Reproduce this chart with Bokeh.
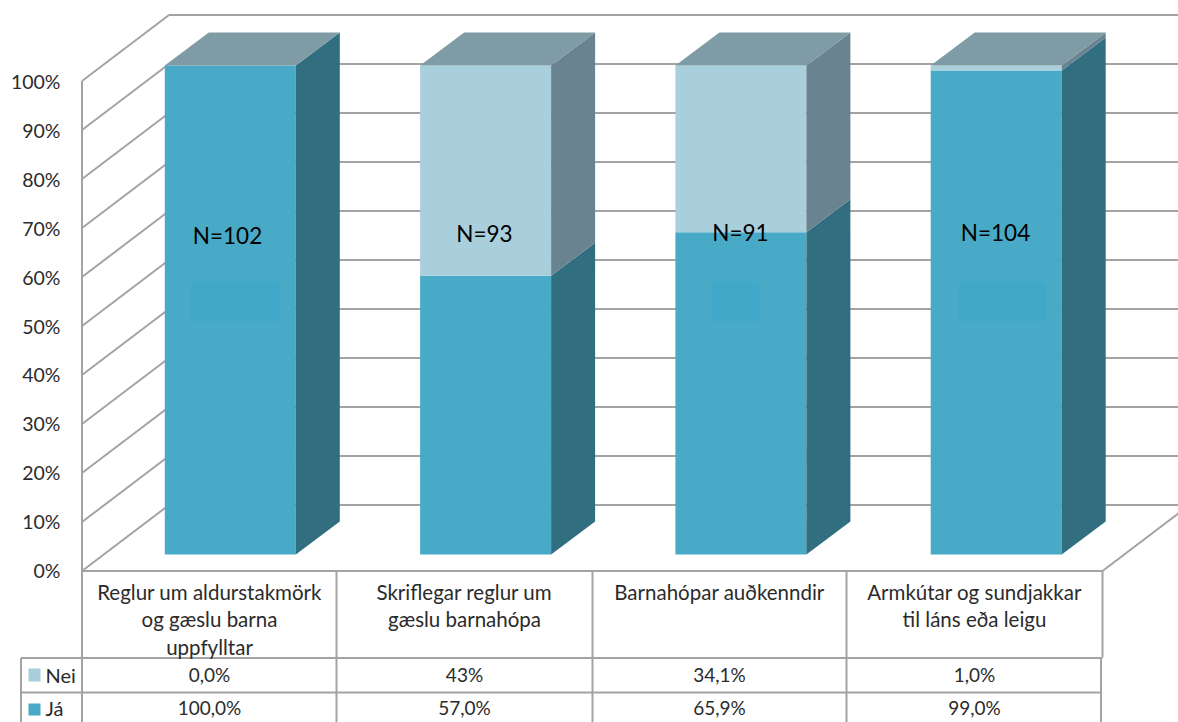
from bokeh.plotting import figure
from bokeh.embed import file_html
from bokeh.resources import INLINE
from bokeh.core.properties import value

categories = [
    ["Reglur um aldurstakmörk", "og gæslu barna", "uppfylltar"],
    ["Skriflegar reglur um", "gæslu barnahópa"],
    ["Barnahópar auðkenndir"],
    ["Armkútar og sundjakkar", "til láns eða leigu"],
]
ja_values = [100.0, 57.0, 65.9, 99.0]
nei_values = [0.0, 43.0, 34.1, 1.0]
ja_labels = ["100,0%", "57,0%", "65,9%", "99,0%"]
nei_labels = ["0,0%", "43%", "34,1%", "1,0%"]
n_labels = ["N=102", "N=93", "N=91", "N=104"]
n_pixel_xy = [(227, 235), (484, 233), (740, 232), (995, 232)]
tick_values = [0, 10, 20, 30, 40, 50, 60, 70, 80, 90, 100]
tick_labels = [f"{t}%" for t in tick_values]
patches_px = [(190, 280), (711, 759), (958, 1046)]

W, H = 1178, 722
OX, OY = 0, 0
BAR0, BAR_STEP, BAR_W = 229.8, 255.3, 131.0
Y0, Y_SCALE = 554.0, 4.89


def dx(px):
    return (px - BAR0) / BAR_STEP


def dy(py):
    return (Y0 - py) / Y_SCALE


p = figure(width=W, height=H, output_backend="svg", toolbar_location=None,
           x_range=(dx(OX), dx(OX + W)), y_range=(dy(OY + H), dy(OY)),
           min_border=0, outline_line_color=None, background_fill_color="white")
p.axis.visible = False
p.grid.visible = False

GRID = "#a3a3a3"
FONT = value("Lato")
TEXT = "#2b2b2b"


def seg(x0, y0, x1, y1, color=GRID, w=2):
    p.line([dx(x0), dx(x1)], [dy(y0), dy(y1)], line_color=color, line_width=w)


# walls: front-left axis at y(v) = 570.5 - 4.9 v, back wall shifted by (87, -66)
AX_L, AX_R, BACK_DX, BACK_DY = 81.5, 1102, 87, 66
for t in tick_values:
    fy = 570.5 - t * 4.9
    seg(AX_L, fy, AX_L + BACK_DX, fy - BACK_DY)
    seg(AX_L + BACK_DX, fy - BACK_DY, 1190, fy - BACK_DY)
seg(AX_L, 570.5 - 490, AX_L, 570.5)
seg(AX_R, 570.5, AX_R + BACK_DX, 570.5 - BACK_DY)

# table
seg(AX_L, 570.5, AX_R, 570.5)
for x in (AX_L, 336, 592, 846):
    seg(x, 570.5, x, 722)
seg(AX_R, 570.5, AX_R, 657)
seg(1100.5, 657, 1100.5, 722)
seg(20.5, 657.5, AX_R, 657.5)
seg(20.5, 692, 1100.5, 692)
seg(20.5, 657.5, 20.5, 722)

# 3-D stacked bars
DEPTH_X, DEPTH_Y = 44 / BAR_STEP, 33 / Y_SCALE
HALF = BAR_W / BAR_STEP / 2
JA, NEI = "#48aac6", "#a9cedc"
JA_S, NEI_S, TOP = "#316e80", "#6a8391", "#7f9ba6"
for i, (ja, nei) in enumerate(zip(ja_values, nei_values)):
    l, r = i - HALF, i + HALF
    tot = ja + nei
    p.quad(left=l, right=r, bottom=0, top=ja, fill_color=JA, line_color=None)
    p.quad(left=l, right=r, bottom=ja, top=tot, fill_color=NEI, line_color=None)
    p.patch([r, r + DEPTH_X, r + DEPTH_X, r],
            [0, DEPTH_Y, ja + DEPTH_Y, ja], fill_color=JA_S, line_color=None)
    p.patch([r, r + DEPTH_X, r + DEPTH_X, r],
            [ja, ja + DEPTH_Y, tot + DEPTH_Y, tot], fill_color=NEI_S, line_color=None)
    p.patch([l, r, r + DEPTH_X, l + DEPTH_X],
            [tot, tot, tot + DEPTH_Y, tot + DEPTH_Y], fill_color=TOP, line_color=None)

# faint rectangles left on the bars
for a, b in patches_px:
    p.quad(left=dx(a), right=dx(b), bottom=dy(321), top=dy(281),
           fill_color="#42a8ca", line_color=None)


def label(x, y, s, size=19.5, align="center", color=TEXT):
    p.text([dx(x)], [dy(y)], text=[s], text_font=FONT, text_font_size=f"{size}px",
           text_align=align, text_baseline="middle", text_color=color)


for t, s in zip(tick_values, tick_labels):
    label(60, 570 - t * 4.89, s, 19.5, "right")

for s, (x, y) in zip(n_labels, n_pixel_xy):
    label(x, y, s, 22.5, color="#000000")

CENTRES = [209, 464, 719, 974]
for c, lines in zip(CENTRES, categories):
    for k, s in enumerate(lines):
        label(c, 591 + k * 27.5, s, 20.5)
for c, s in zip(CENTRES, nei_labels):
    label(c, 674, s, 19)
for c, s in zip(CENTRES, ja_labels):
    label(c, 707, s, 19)

# legend keys in the table
p.quad(left=dx(28), right=dx(40), bottom=dy(681), top=dy(668), fill_color=NEI, line_color=None)
p.quad(left=dx(28), right=dx(40), bottom=dy(715), top=dy(703), fill_color=JA, line_color=None)
label(45, 674, "Nei", 20, "left")
label(45, 707, "Já", 20, "left")

open("out.html", "w").write(file_html(p, INLINE))
